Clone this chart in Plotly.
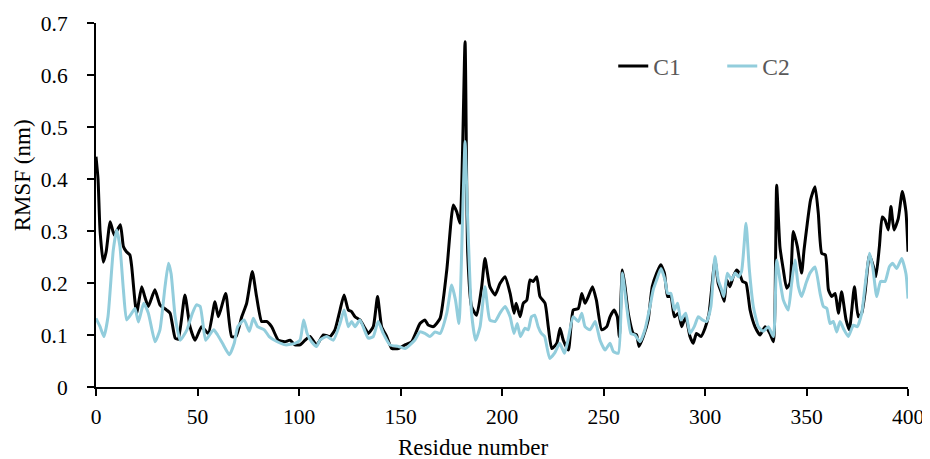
import plotly.graph_objects as go

# C1 (black) residue / RMSF readings
c1_x = [0, 1, 2, 3.6, 5, 7, 9, 12, 13.5, 15, 16.7, 17.6, 20, 22.5, 24, 25.8, 29, 31.5, 34.8, 36.5, 39, 40.5,
        43.8, 46.3, 48.8, 52, 55.3, 58.6, 60.3, 63.9, 66.8, 69, 71.8, 74.2, 77, 79.1, 81.6, 84, 86.5, 89.8, 93,
        95.6, 98, 100.5, 103, 105.4, 108.7, 112, 115.3, 117.7, 120.2, 122.2, 124.3, 125.9, 127.6, 130, 132.5,
        134.1, 136.6, 138.7, 140.7, 143.2, 145.7, 149, 152.2, 155.5, 159.6, 162, 163.7, 166.2, 169.5, 172.8,
        176, 177.7, 179.3, 181.8, 183.1, 185, 187.5, 190, 191.6, 194, 196.6, 199, 201.5, 204, 205.9, 207, 208.9,
        210.5, 212.2, 213.8, 215.4, 217.1, 218.7, 221.2, 222.8, 224.5, 227, 228.6, 230.2, 232.7, 235.1, 237.6,
        239.3, 240.9, 242.5, 244.6, 246.5, 249.1, 251.6, 253.2, 255.2, 256.8, 257.8, 259.3, 260.6, 262.2, 264.7,
        266.3, 267.5, 269.6, 272, 274, 276.2, 278.2, 280, 281.6, 283.2, 284.9, 286.9, 288.5, 290.5, 292.6,
        294.2, 295.8, 298, 300, 302, 304.9, 306.5, 308.2, 309.5, 310.7, 312.3, 313.9, 315.6, 316.9, 318.5,
        320.2, 322.2, 324.6, 327.1, 329.6, 332, 333.7, 335.3, 336.9, 338.6, 340.2, 341.9, 343.5, 345.5, 347.6,
        348.8, 350.4, 352, 354.2, 355.8, 357.5, 359.3, 360.8, 362.4, 364.1, 365.7, 367.3, 369.5, 371.1, 373.6,
        375.5, 377.2, 378.8, 381, 383, 384.2, 385.9, 387.3, 388.7, 390.3, 391.6, 393.1, 395.2, 397.2, 399, 400]
c1_y = [0.443, 0.40, 0.30, 0.24, 0.26, 0.318, 0.292, 0.312, 0.27, 0.26, 0.254, 0.231, 0.142, 0.193, 0.174,
        0.155, 0.187, 0.158, 0.148, 0.142, 0.094, 0.092, 0.177, 0.116, 0.09, 0.116, 0.103, 0.164, 0.135, 0.18,
        0.097, 0.097, 0.135, 0.161, 0.222, 0.174, 0.126, 0.126, 0.116, 0.09, 0.087, 0.09, 0.081, 0.081, 0.09,
        0.097, 0.081, 0.1, 0.097, 0.11, 0.148, 0.177, 0.148, 0.145, 0.135, 0.129, 0.113, 0.103, 0.116, 0.174,
        0.116, 0.097, 0.074, 0.074, 0.081, 0.087, 0.122, 0.129, 0.119, 0.116, 0.132, 0.225, 0.35, 0.337, 0.315,
        0.664, 0.258, 0.155, 0.138, 0.193, 0.247, 0.193, 0.177, 0.199, 0.212, 0.18, 0.142, 0.161, 0.135, 0.161,
        0.167, 0.206, 0.203, 0.212, 0.174, 0.161, 0.116, 0.074, 0.084, 0.113, 0.09, 0.071, 0.148, 0.151, 0.18,
        0.161, 0.174, 0.193, 0.167, 0.11, 0.116, 0.135, 0.148, 0.135, 0.097, 0.225, 0.193, 0.142, 0.103, 0.1,
        0.078, 0.097, 0.129, 0.193, 0.219, 0.235, 0.219, 0.174, 0.174, 0.135, 0.142, 0.116, 0.135, 0.097, 0.084,
        0.103, 0.097, 0.113, 0.142, 0.244, 0.199, 0.18, 0.165, 0.206, 0.193, 0.212, 0.225, 0.219, 0.203, 0.2,
        0.148, 0.116, 0.1, 0.116, 0.103, 0.087, 0.388, 0.27, 0.225, 0.19, 0.2, 0.299, 0.27, 0.219, 0.264, 0.315,
        0.36, 0.385, 0.335, 0.257, 0.254, 0.187, 0.174, 0.18, 0.142, 0.183, 0.129, 0.11, 0.193, 0.135, 0.142,
        0.18, 0.254, 0.231, 0.212, 0.27, 0.327, 0.321, 0.302, 0.347, 0.302, 0.324, 0.376, 0.337, 0.26]

# C2 (light blue) residue / RMSF readings
c2_x = [0, 2, 3.9, 5.9, 8.5, 10.2, 11.8, 13.5, 15.1, 17.6, 19.2, 20.9, 23.5, 25.8, 29.1, 31.5, 34, 35.7, 37, 39,
        41.5, 44.8, 47.5, 49.5, 51.3, 54, 56.4, 58, 59.9, 62.3, 65.7, 68.1, 69.8, 73, 75.5, 77.5, 79.6, 82.9,
        85.3, 89.3, 93.4, 98, 100.5, 102.3, 104, 106.2, 108.7, 110.3, 113.6, 116.9, 120.2, 122.2, 124.3, 125.9,
        127.6, 130, 132.5, 134.1, 136.6, 139, 141.5, 144.8, 149, 152.2, 157, 159.6, 162, 164.5, 167, 169.5,
        172.8, 175.2, 177.1, 178.8, 180.9, 181.8, 183.1, 185, 187, 189.2, 191.6, 194, 196.6, 199, 201.5, 204,
        205.9, 207.5, 209.1, 211.3, 212.9, 214.5, 216.1, 217.8, 219.4, 221, 223.5, 225.9, 228.4, 230.8, 232.5,
        235.1, 237.6, 239.3, 240.9, 243.4, 245.9, 248.3, 250.8, 253.2, 254.9, 257.3, 259.3, 261.4, 263.5, 265.5,
        268, 270.4, 272.9, 274.5, 276.2, 278.3, 280.3, 281.6, 283.2, 284.9, 286.5, 288.1, 290.5, 292.6, 294.7,
        296.7, 298.7, 300.8, 302.9, 304.9, 306.5, 308.2, 309.3, 311, 313.1, 314.8, 316.4, 318, 320.2, 321.8,
        323.8, 326.3, 328.7, 331.2, 333.7, 335.3, 336.9, 338.6, 341, 342.7, 344.3, 346, 347.6, 349.8, 351.7,
        354.2, 356.7, 358.3, 360, 361.6, 363.2, 364.9, 366.5, 368.5, 370.6, 373.1, 375, 377.2, 378.8, 381, 382.6,
        384.6, 386.5, 388.7, 390.8, 392.4, 394.4, 396.9, 399, 400]
c2_y = [0.132, 0.116, 0.097, 0.135, 0.263, 0.302, 0.27, 0.187, 0.129, 0.142, 0.151, 0.125, 0.161, 0.142, 0.087,
        0.11, 0.193, 0.238, 0.218, 0.135, 0.09, 0.11, 0.142, 0.158, 0.155, 0.09, 0.103, 0.11, 0.1, 0.084, 0.062,
        0.084, 0.116, 0.129, 0.107, 0.132, 0.116, 0.11, 0.097, 0.087, 0.081, 0.084, 0.09, 0.129, 0.103, 0.087,
        0.078, 0.09, 0.097, 0.09, 0.122, 0.148, 0.116, 0.126, 0.116, 0.129, 0.107, 0.094, 0.097, 0.126, 0.103,
        0.081, 0.078, 0.074, 0.09, 0.106, 0.103, 0.097, 0.106, 0.103, 0.142, 0.196, 0.167, 0.122, 0.372, 0.472,
        0.321, 0.142, 0.09, 0.116, 0.193, 0.129, 0.126, 0.142, 0.155, 0.135, 0.103, 0.122, 0.097, 0.113, 0.11,
        0.135, 0.138, 0.116, 0.103, 0.097, 0.055, 0.065, 0.084, 0.065, 0.09, 0.135, 0.126, 0.142, 0.116, 0.11,
        0.126, 0.09, 0.071, 0.084, 0.068, 0.065, 0.219, 0.155, 0.103, 0.1, 0.087, 0.11, 0.155, 0.187, 0.206,
        0.228, 0.206, 0.18, 0.18, 0.148, 0.161, 0.129, 0.142, 0.103, 0.116, 0.135, 0.129, 0.126, 0.155, 0.251,
        0.206, 0.187, 0.174, 0.219, 0.206, 0.219, 0.212, 0.222, 0.315, 0.228, 0.155, 0.116, 0.107, 0.116, 0.097,
        0.244, 0.206, 0.167, 0.148, 0.2, 0.244, 0.193, 0.174, 0.2, 0.219, 0.231, 0.18, 0.155, 0.151, 0.122,
        0.126, 0.106, 0.126, 0.11, 0.097, 0.119, 0.116, 0.142, 0.193, 0.257, 0.231, 0.174, 0.203, 0.203, 0.231,
        0.238, 0.228, 0.247, 0.218, 0.17]

x_ticks = [0, 50, 100, 150, 200, 250, 300, 350, 400]
y_ticks = [0, 0.1, 0.2, 0.3, 0.4, 0.5, 0.6, 0.7]
y_tick_labels = ["0", "0.1", "0.2", "0.3", "0.4", "0.5", "0.6", "0.7"]

FONT = "Times New Roman, Liberation Serif, serif"
TICK_FS = 21.5
TITLE_FS = 23
LEG_FS = 23.5

fig = go.Figure()
fig.add_trace(go.Scatter(x=c1_x, y=c1_y, mode="lines", name="C1",
                         line=dict(color="#000000", width=3, shape="spline", smoothing=0.5)))
fig.add_trace(go.Scatter(x=c2_x, y=c2_y, mode="lines", name="C2",
                         line=dict(color="#92CDDC", width=3, shape="spline", smoothing=0.5)))

# page body has an 8px default margin, so the figure is sized/offset to compensate
fig.update_layout(
    width=922, height=451,
    margin=dict(l=88, r=22, t=15, b=72, autoexpand=False),
    paper_bgcolor="white", plot_bgcolor="white",
    font=dict(family=FONT, size=TICK_FS, color="#000000"),
    showlegend=True,
    legend=dict(orientation="h", x=0.637, y=0.942, xanchor="left", yanchor="top",
                font=dict(family=FONT, size=LEG_FS, color="#595959"),
                bgcolor="rgba(0,0,0,0)", entrywidth=64, entrywidthmode="pixels",
                tracegroupgap=0),
    annotations=[
        dict(text="Residue number", x=0.464, y=-0.167, xref="paper", yref="paper",
             xanchor="center", yanchor="middle", showarrow=False,
             font=dict(family=FONT, size=TITLE_FS, color="#000000")),
        dict(text="RMSF (nm)", x=-0.091, y=0.582, xref="paper", yref="paper",
             xanchor="center", yanchor="middle", textangle=-90, showarrow=False,
             font=dict(family=FONT, size=TITLE_FS, color="#000000")),
    ],
)
fig.update_xaxes(range=[0, 400], tickvals=x_ticks, ticktext=[str(v) for v in x_ticks], automargin=False,
                 showgrid=False, zeroline=False, showline=True, linecolor="black", linewidth=2,
                 ticks="outside", ticklen=7, tickwidth=2, tickcolor="black", ticklabelstandoff=2,
                 tickfont=dict(family=FONT, size=TICK_FS))
fig.update_yaxes(range=[0, 0.7], tickvals=y_ticks, ticktext=y_tick_labels, automargin=False,
                 showgrid=False, zeroline=False, showline=True, linecolor="black", linewidth=2,
                 ticks="outside", ticklen=7, tickwidth=2, tickcolor="black", ticklabelstandoff=15,
                 tickfont=dict(family=FONT, size=TICK_FS))

fig.write_html("out.html")
